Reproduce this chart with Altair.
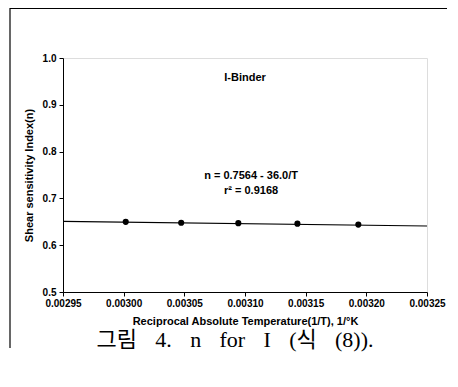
import altair as alt
import pandas as pd

# Data
inv_T = [0.0030017, 0.0030474, 0.0030945, 0.0031432, 0.0031934]
n_vals = [0.650, 0.648, 0.647, 0.646, 0.644]
fit_x = [0.00295, 0.00325]
fit_y = [0.651, 0.641]
x_ticks = [0.00295, 0.00300, 0.00305, 0.00310, 0.00315, 0.00320, 0.00325]
y_ticks = [0.5, 0.6, 0.7, 0.8, 0.9, 1.0]
ann_text = ["I-Binder", "n = 0.7564 - 36.0/T", "r\u00b2 = 0.9168"]
ann_x = [0.003100, 0.003105, 0.003105]
ann_y = [0.958, 0.748, 0.716]
caption = "\u2002\u2004".join(["그림", "4.", "n", "for", "I", "(식", "(8))."])

W, H = 364, 234
FONT = "Liberation Sans"

pts = pd.DataFrame({"x": inv_T, "n": n_vals})
fit = pd.DataFrame({"x": fit_x, "n": fit_y})
ann = pd.DataFrame({"x": ann_x, "n": ann_y, "t": ann_text})

xscale = alt.Scale(domain=[0.00295, 0.00325], nice=False, zero=False)
yscale = alt.Scale(domain=[0.5, 1.0], nice=False, zero=False)

xaxis = alt.Axis(values=x_ticks, format=".5f", grid=False, tickSize=4,
                 labelPadding=2, labelFontSize=10, labelFontWeight="bold",
                 labelFont=FONT, title="Reciprocal Absolute Temperature(1/T), 1/\u00b0K",
                 titleFont=FONT, titleFontSize=11, titleFontWeight="bold",
                 titlePadding=7, domainColor="black", tickColor="black",
                 labelColor="black", titleColor="black", labelFlush=False)
yaxis = alt.Axis(values=y_ticks, format=".1f", grid=False, tickSize=4,
                 labelPadding=3, labelFontSize=10, labelFontWeight="bold",
                 labelFont=FONT, title="Shear sensitivity Index(n)",
                 titleFont=FONT, titleFontSize=11, titleFontWeight="bold",
                 titlePadding=8, domainColor="black", tickColor="black",
                 labelColor="black", titleColor="black")

line = alt.Chart(fit).mark_line(color="black", strokeWidth=1.2).encode(
    x=alt.X("x:Q", scale=xscale, axis=xaxis),
    y=alt.Y("n:Q", scale=yscale, axis=yaxis),
)
points = alt.Chart(pts).mark_circle(color="black", size=38, opacity=1).encode(
    x=alt.X("x:Q", scale=xscale), y=alt.Y("n:Q", scale=yscale))
texts = alt.Chart(ann).mark_text(font=FONT, fontSize=11, fontWeight="bold",
                                 color="black", align="center").encode(
    x=alt.X("x:Q", scale=xscale), y=alt.Y("n:Q", scale=yscale), text="t:N")

cap = alt.Chart(pd.DataFrame({"t": [caption]})).mark_text(
    font="Liberation Serif, Noto Sans CJK KR", fontSize=22, color="black",
    align="center", baseline="middle").encode(
    x=alt.value(172), y=alt.value(282), text="t:N")

frame_left = alt.Chart(pd.DataFrame({"a": [0]})).mark_rule(color="black", strokeWidth=1.2).encode(
    x=alt.value(-53), y=alt.value(-50), y2=alt.value(290))
frame_top = alt.Chart(pd.DataFrame({"a": [0]})).mark_rule(color="black", strokeWidth=1.2).encode(
    x=alt.value(-53), x2=alt.value(384), y=alt.value(-49.5))

chart = alt.layer(line, points, texts, cap, frame_left, frame_top).properties(
    width=W, height=H,
    autosize=alt.AutoSizeParams(type="none"),
    padding={"left": 55, "top": 50, "right": 20, "bottom": 70},
).configure_view(stroke="black", strokeWidth=1.2).configure(background="white")

chart.save("out.html", embed_options={"renderer": "svg", "actions": False})
